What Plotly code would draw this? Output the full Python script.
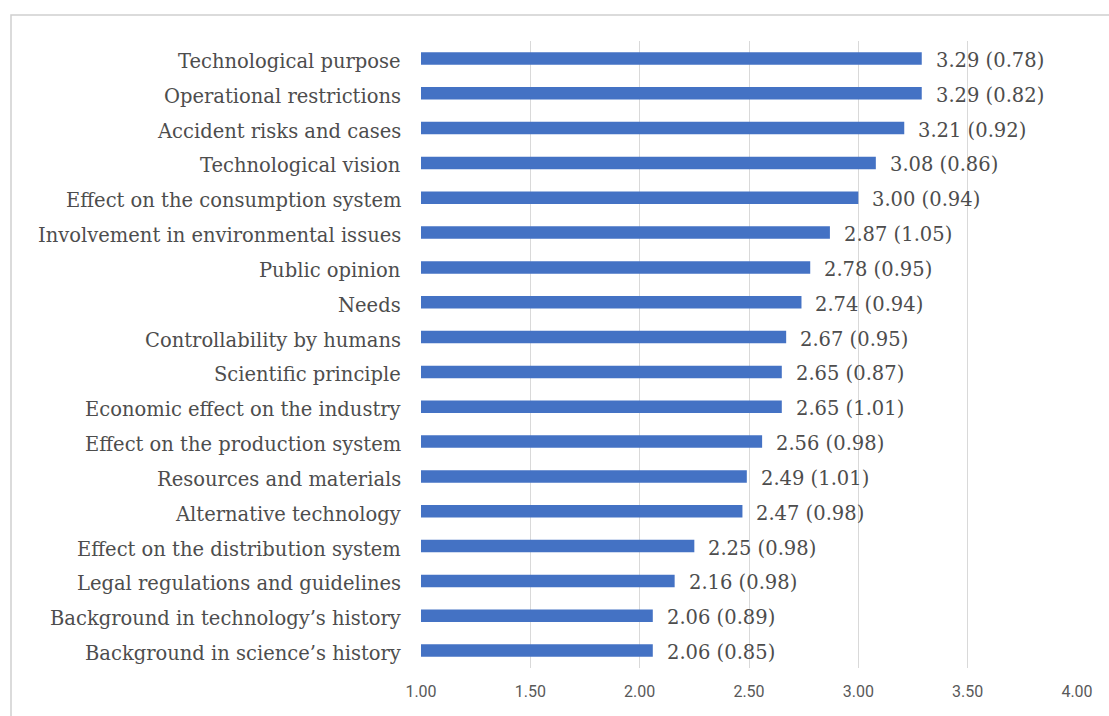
import plotly.graph_objects as go

# Factors, listed bottom-to-top as they appear on the y axis
factors = [
    "Background in science\u2019s history",
    "Background in technology\u2019s history",
    "Legal regulations and guidelines",
    "Effect on the distribution system",
    "Alternative technology",
    "Resources and materials",
    "Effect on the production system",
    "Economic effect on the industry",
    "Scientific principle",
    "Controllability by humans",
    "Needs",
    "Public opinion",
    "Involvement in environmental issues",
    "Effect on the consumption system",
    "Technological vision",
    "Accident risks and cases",
    "Operational restrictions",
    "Technological purpose",
]
means = [2.06, 2.06, 2.16, 2.25, 2.47, 2.49, 2.56, 2.65, 2.65, 2.67,
         2.74, 2.78, 2.87, 3.00, 3.08, 3.21, 3.29, 3.29]
sds = [0.85, 0.89, 0.98, 0.98, 0.98, 1.01, 0.98, 1.01, 0.87, 0.95,
       0.94, 0.95, 1.05, 0.94, 0.86, 0.92, 0.82, 0.78]
x_ticks = [1.0, 1.5, 2.0, 2.5, 3.0, 3.5, 4.0]

BASE = 1.0
BAR_COLOR = "#4472C4"
TEXT_COLOR = "#4d4d4d"
SERIF = "DejaVu Serif, Liberation Serif, serif"
LABEL_SIZE = 19.5

fig = go.Figure()
fig.add_trace(go.Bar(
    y=factors,
    x=[m - BASE for m in means],
    base=BASE,
    orientation="h",
    marker=dict(color=BAR_COLOR, line=dict(width=0)),
    width=0.36,
    hoverinfo="skip",
))

for f, m, s in zip(factors, means, sds):
    # Category name to the left of the plot area
    fig.add_annotation(
        x=0, y=f, xref="paper", yref="y",
        text=f,
        showarrow=False, xanchor="right", yanchor="middle",
        xshift=-18, yshift=-3,
        font=dict(family=SERIF, size=LABEL_SIZE, color=TEXT_COLOR),
    )
    # Mean (SD) just past the end of the bar
    fig.add_annotation(
        x=m, y=f, xref="x", yref="y",
        text=f"{m:.2f} ({s:.2f})",
        showarrow=False, xanchor="left", yanchor="middle",
        xshift=12, yshift=-2,
        font=dict(family=SERIF, size=LABEL_SIZE, color=TEXT_COLOR),
    )

L, R, T, B = 421, 32, 41, 48
W, H = 1109, 716
pw, ph = W - L - R, H - T - B

def px_to_paper_x(px):
    return (px - L) / pw

def px_to_paper_y(py):
    return (H - B - py) / ph

# Light frame around the chart area, open past the right and bottom edges
fig.add_shape(
    type="rect", xref="paper", yref="paper",
    x0=px_to_paper_x(11), x1=px_to_paper_x(W + 5),
    y0=px_to_paper_y(H + 5), y1=px_to_paper_y(15),
    line=dict(color="#d0d0d0", width=1.5), fillcolor="rgba(0,0,0,0)",
    layer="below",
)

fig.update_layout(
    width=W, height=H,
    margin=dict(l=L, r=R, t=T, b=B, pad=0),
    paper_bgcolor="white", plot_bgcolor="white",
    showlegend=False,
    xaxis=dict(
        range=[1.0, 4.0],
        tickvals=x_ticks,
        ticktext=[f"{v:.2f}" for v in x_ticks],
        showgrid=True, gridcolor="#d9d9d9", gridwidth=1,
        zeroline=False, showline=False,
        ticks="", ticklabelstandoff=12,
        tickfont=dict(family="Roboto, Open Sans, sans-serif", size=16, color="#595959"),
        fixedrange=True,
    ),
    yaxis=dict(
        categoryorder="array", categoryarray=factors,
        range=[-0.5, len(factors) - 0.5],
        showgrid=False, zeroline=False, showline=False,
        showticklabels=False, ticks="",
        fixedrange=True,
    ),
)

fig.write_html("out.html")
